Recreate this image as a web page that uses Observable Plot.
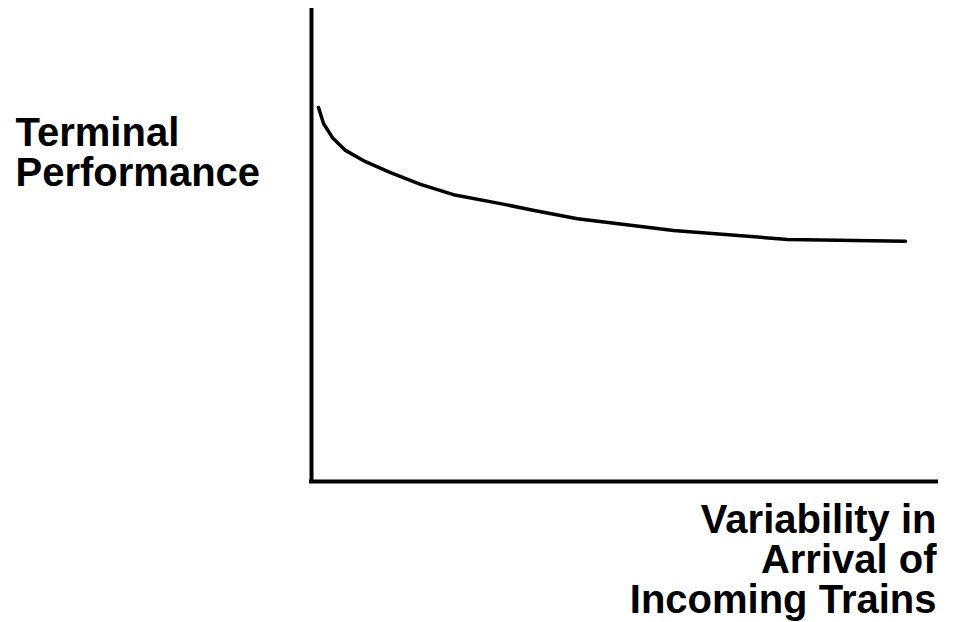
<!DOCTYPE html>
<html>
<head>
<meta charset="utf-8">
<script src="https://cdn.jsdelivr.net/npm/d3@7"></script>
<script src="https://cdn.jsdelivr.net/npm/@observablehq/plot@0.6"></script>
<style>
  html, body { margin: 0; padding: 0; background: #fff; }
  #chart { width: 953px; height: 622px; }
</style>
</head>
<body>
<div id="chart"></div>
<script>
// Curve values (arbitrary 0–100 units)
const variability = [1.12, 1.92, 3.36, 5.44, 8.64, 12.64, 17.44, 22.72, 30.24, 35.84, 42.56, 57.92, 76.16, 95.04];
const performance = [79.4, 76.0, 73.0, 70.3, 67.9, 65.6, 63.1, 60.9, 59.0, 57.5, 55.8, 53.3, 51.4, 51.0];
const yLabel = ["Terminal", "Performance"];
const xLabel = ["Variability in", "Arrival of", "Incoming Trains"];

const points = variability.map((x, i) => ({x, y: performance[i]}));
const font = "'Liberation Sans', Arial, Helvetica, sans-serif";

const chart = Plot.plot({
  width: 953,
  height: 622,
  marginLeft: 311,
  marginRight: 17,
  marginTop: 10,
  marginBottom: 141,
  style: {background: "#fff", overflow: "visible"},
  x: {domain: [0, 100], axis: null},
  y: {domain: [0, 100], axis: null},
  marks: [
    Plot.ruleX([0], {y1: 0, y2: 100, stroke: "#000", strokeWidth: 4, strokeLinecap: "square"}),
    Plot.ruleY([0], {x1: 0, x2: 100, stroke: "#000", strokeWidth: 4, strokeLinecap: "square"}),
    Plot.line(points, {x: "x", y: "y", stroke: "#000", strokeWidth: 3.5, curve: "linear"}),
    Plot.text([yLabel.join("\n")], {
      text: d => d, frameAnchor: "top-left", textAnchor: "start", lineAnchor: "top",
      dx: -296, dy: 107, fontSize: 40, fontWeight: "bold", fontFamily: font,
      lineHeight: 1.0, fill: "#000"
    }),
    Plot.text([xLabel.join("\n")], {
      text: d => d, frameAnchor: "bottom-right", textAnchor: "end", lineAnchor: "top",
      dx: 0, dy: 23, fontSize: 40, fontWeight: "bold", fontFamily: font,
      lineHeight: 1.0, fill: "#000"
    })
  ]
});
document.getElementById("chart").appendChild(chart);
</script>
</body>
</html>
